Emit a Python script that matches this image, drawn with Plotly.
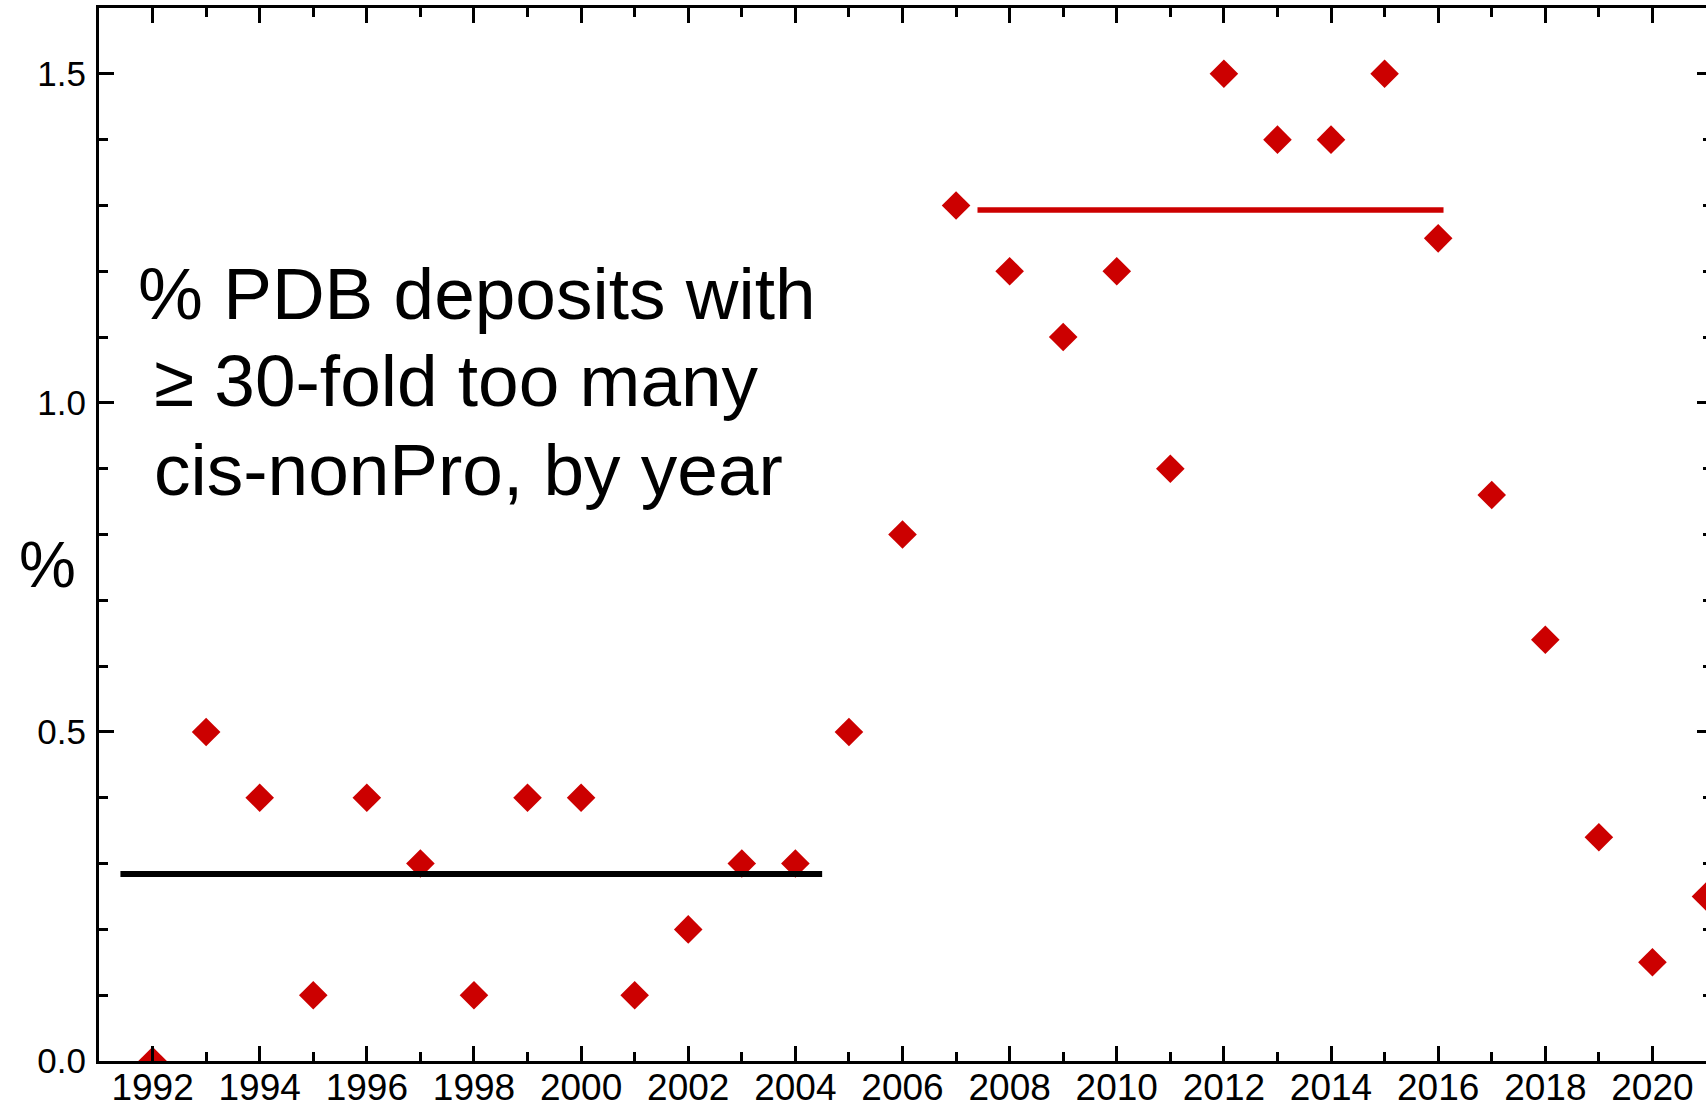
import plotly.graph_objects as go

# ---- data ----
years = list(range(1992, 2022))
pct = [0.0, 0.5, 0.4, 0.1, 0.4, 0.3, 0.1, 0.4, 0.4, 0.1,
       0.2, 0.3, 0.3, 0.5, 0.8, 1.3, 1.2, 1.1, 1.2, 0.9,
       1.5, 1.4, 1.4, 1.5, 1.25, 0.86, 0.64, 0.34, 0.15, 0.25]

early_mean_x = [1991.4, 2004.5]
early_mean_y = [0.284, 0.284]
late_mean_x = [2007.4, 2016.1]
late_mean_y = [1.293, 1.293]

title_lines = ["% PDB deposits with", "\u2265 30-fold too many", "cis-nonPro, by year"]
y_title = "%"

RED = "#CC0000"
FONT = "Liberation Sans, Arial, Helvetica, sans-serif"

fig = go.Figure()
fig.add_trace(go.Scatter(x=years, y=pct, mode="markers",
                         marker=dict(symbol="diamond", size=22, color=RED,
                                     line=dict(width=0)),
                         showlegend=False))
fig.add_trace(go.Scatter(x=early_mean_x, y=early_mean_y, mode="lines",
                         line=dict(color="black", width=6), showlegend=False,
                         hoverinfo="skip"))
fig.add_trace(go.Scatter(x=late_mean_x, y=late_mean_y, mode="lines",
                         line=dict(color=RED, width=5.5), showlegend=False,
                         hoverinfo="skip"))
# helper trace so the right-hand tick axis is drawn
fig.add_trace(go.Scatter(x=[None], y=[None], yaxis="y2", showlegend=False,
                         hoverinfo="skip"))

fig.update_layout(
    width=1706, height=1103,
    margin=dict(l=99, r=0, t=8, b=42, autoexpand=False),
    paper_bgcolor="white", plot_bgcolor="white",
    font=dict(family=FONT, color="black"),
    xaxis=dict(range=[1991, 2021], tick0=1992, dtick=2, automargin=False,
               ticks="inside", ticklen=15, tickwidth=3, tickcolor="black",
               minor=dict(dtick=1, tick0=1992, ticks="inside", ticklen=9,
                          tickwidth=3, tickcolor="black"),
               showline=True, linewidth=3, linecolor="black", mirror="ticks",
               showgrid=False, zeroline=False,
               tickfont=dict(size=37, family=FONT, color="black"),
               ticklabelstandoff=-8),
    yaxis=dict(range=[0, 1.6], tick0=0, dtick=0.5, tickformat=".1f", automargin=False,
               ticks="inside", ticklen=15, tickwidth=3, tickcolor="black",
               minor=dict(dtick=0.1, tick0=0, ticks="inside", ticklen=9,
                          tickwidth=3, tickcolor="black"),
               showline=True, linewidth=3, linecolor="black", mirror=False,
               showgrid=False, zeroline=False,
               tickfont=dict(size=35, family=FONT, color="black"),
               ticklabelstandoff=3),
    yaxis2=dict(range=[0, 1.6], overlaying="y", side="right", tick0=0, dtick=0.5,
                automargin=False,
                ticks="inside", ticklen=9, tickwidth=3, tickcolor="black",
                minor=dict(dtick=0.1, tick0=0, ticks="inside", ticklen=3,
                           tickwidth=3, tickcolor="black"),
                showline=False, showgrid=False, zeroline=False,
                showticklabels=False),
)

# multi-line label inside the plot
line_pos = [(0.0230, 0.7284), (0.0330, 0.6458), (0.0330, 0.5613)]
for txt, (px, py) in zip(title_lines, line_pos):
    fig.add_annotation(text=txt, xref="paper", yref="paper", x=px, y=py,
                       xanchor="left", yanchor="middle", showarrow=False,
                       font=dict(size=73, family=FONT, color="black"))

fig.add_annotation(text=y_title, xref="paper", yref="paper", x=-0.0323, y=0.471,
                   xanchor="center", yanchor="middle", showarrow=False,
                   font=dict(size=64, family=FONT, color="black"))

fig.write_html("out.html", config={"displayModeBar": False},
               post_script="document.body.style.margin='0';"
                           "document.body.style.overflow='hidden';")
